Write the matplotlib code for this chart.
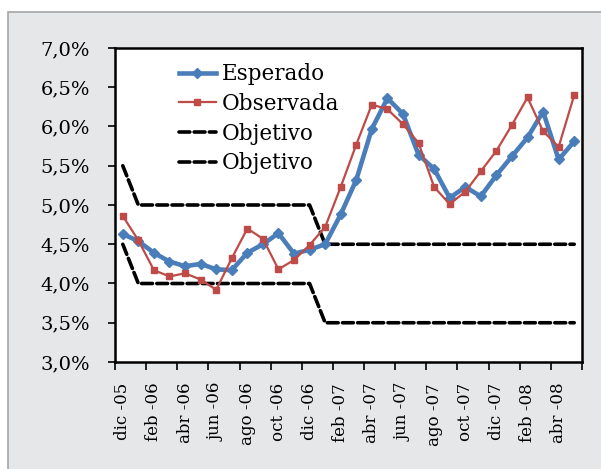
import matplotlib
matplotlib.use("Agg")
import matplotlib.pyplot as plt
from matplotlib.patches import Rectangle
from matplotlib.ticker import FixedLocator, FuncFormatter

months = ["dic -05", "ene -06", "feb -06", "mar -06", "abr -06", "may -06", "jun -06",
          "jul -06", "ago -06", "sep -06", "oct -06", "nov -06", "dic -06",
          "ene -07", "feb -07", "mar -07", "abr -07", "may -07", "jun -07",
          "jul -07", "ago -07", "sep -07", "oct -07", "nov -07", "dic -07",
          "ene -08", "feb -08", "mar -08", "abr -08", "may -08"]

esperado = [4.63, 4.54, 4.39, 4.28, 4.22, 4.25, 4.18, 4.17, 4.39, 4.50, 4.64, 4.38,
            4.43, 4.50, 4.88, 5.32, 5.97, 6.36, 6.16, 5.64, 5.46, 5.09, 5.23, 5.11,
            5.38, 5.62, 5.86, 6.19, 5.58, 5.81]
observada = [4.86, 4.55, 4.17, 4.09, 4.13, 4.05, 3.92, 4.32, 4.70, 4.57, 4.18, 4.30,
             4.49, 4.72, 5.23, 5.77, 6.28, 6.22, 6.03, 5.79, 5.23, 5.01, 5.17, 5.43,
             5.69, 6.02, 6.37, 5.94, 5.74, 6.40]
objetivo_sup = [5.5] + [5.0] * 12 + [4.5] * 17
objetivo_inf = [4.5] + [4.0] * 12 + [3.5] * 17

W, H = 601, 469
fig = plt.figure(figsize=(W / 100, H / 100), dpi=100)
fig.patch.set_facecolor("white")
bg = Rectangle((8 / W, -0.05), 1.1, 1 - 12 / H + 0.05, transform=fig.transFigure,
               facecolor="#e6e7e9", edgecolor="#a6a6a6", linewidth=1.2, zorder=-10)
fig.add_artist(bg)

ax = fig.add_axes([115 / W, 1 - 362 / H, (582 - 115) / W, (362 - 48) / H])
ax.set_zorder(1)
ax.set_facecolor("white")
font = "DejaVu Serif"

x = list(range(len(months)))
ax.plot(x, esperado, color="#4a7ebb", lw=3.3, marker="D", ms=5.5, label="Esperado", zorder=4)
ax.plot(x, observada, color="#be4b48", lw=1.6, marker="s", ms=4.2, label="Observada", zorder=5)
ax.plot(x, objetivo_sup, color="black", lw=2.6, ls=(0, (3.0, 1.2)), dash_capstyle="round",
        label="Objetivo", zorder=3)
ax.plot(x, objetivo_inf, color="black", lw=2.6, ls=(0, (3.0, 1.2)), dash_capstyle="round",
        label="Objetivo", zorder=3)

ax.set_xlim(-0.5, len(months) - 0.5)
ax.set_ylim(3.0, 7.0)
ax.xaxis.set_major_locator(FixedLocator([i - 0.5 for i in range(0, len(months) + 1, 2)]))
ax.xaxis.set_major_formatter(FuncFormatter(lambda v, p: ""))
ax.xaxis.set_minor_locator(FixedLocator(list(range(0, len(months), 2))))
ax.set_xticklabels([months[i] for i in range(0, len(months), 2)], minor=True)
ax.tick_params(axis="x", which="major", direction="out", length=6, width=1.2)
ax.tick_params(axis="x", which="minor", length=0, pad=15, labelsize=12, labelrotation=90)
for t in ax.get_xticklabels(minor=True):
    t.set_fontfamily(font)
    t.set_va("top")

ax.set_yticks([3.0 + 0.5 * k for k in range(9)])
ax.yaxis.set_major_formatter(FuncFormatter(lambda v, p: f"{v:.1f}%".replace(".", ",")))
ax.tick_params(axis="y", direction="out", length=5, width=1.2, pad=13, labelsize=14)
for t in ax.get_yticklabels():
    t.set_fontfamily(font)

for s in ax.spines.values():
    s.set_linewidth(1.8)
    s.set_color("black")

leg = ax.legend(loc="upper left", bbox_to_anchor=(0.105, 1.0), frameon=False,
                prop={"family": font, "size": 15.5}, handlelength=1.7, handletextpad=0.3,
                labelspacing=0.36, borderaxespad=0.3)

fig.savefig("out.png", dpi=100)
